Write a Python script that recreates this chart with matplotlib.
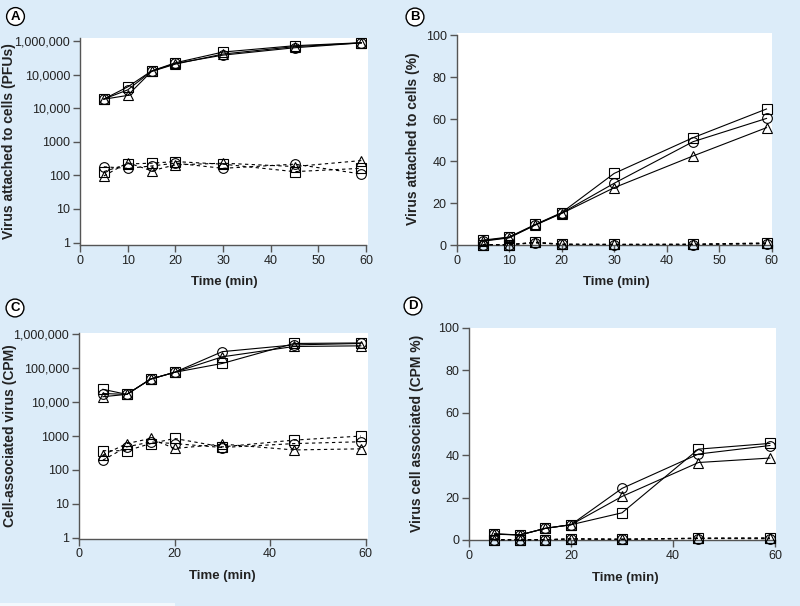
import matplotlib
matplotlib.use("Agg")
import matplotlib.pyplot as plt
from matplotlib.patches import Rectangle

# ---------------- data ----------------
time_min = [5, 10, 15, 20, 30, 45, 59]

# Panel A: virus attached to cells (PFUs)
a_sq_solid = [18700, 43000, 128000, 225000, 470000, 725000, 890000]
a_ci_solid = [18700, 35000, 126000, 215000, 380000, 630000, 880000]
a_tr_solid = [18500, 24000, 124000, 205000, 410000, 680000, 880000]
a_sq_dash = [129, 218, 230, 257, 215, 129, 162]
a_ci_dash = [180, 162, 190, 230, 162, 215, 110]
a_tr_dash = [96, 238, 137, 205, 230, 183, 275]

# Panel B: virus attached to cells (%)
b_sq_solid = [2.3, 3.8, 9.8, 15.4, 34.1, 51.1, 64.8]
b_ci_solid = [2.0, 3.6, 9.6, 15.2, 29.4, 49.2, 60.3]
b_tr_solid = [1.8, 3.4, 9.5, 15.0, 27.3, 42.4, 55.9]
b_sq_dash = [0.2, 0.1, 1.2, 0.3, 0.3, 0.3, 0.8]
b_ci_dash = [0.1, 0.2, 1.0, 0.3, 0.2, 0.2, 0.6]
b_tr_dash = [0.2, 0.1, 1.4, 0.4, 0.3, 0.4, 1.0]

# Panel C: cell-associated virus (CPM)
c_sq_solid = [24000, 17000, 48000, 76000, 139000, 540000, 560000]
c_ci_solid = [18000, 17000, 48000, 76000, 310000, 490000, 540000]
c_tr_solid = [14500, 17000, 48000, 76000, 218000, 440000, 460000]
c_sq_dash = [370, 370, 600, 850, 480, 760, 1000]
c_ci_dash = [195, 480, 670, 600, 460, 600, 680]
c_tr_dash = [275, 600, 850, 430, 580, 390, 420]

# Panel D: virus cell associated (CPM %)
d_sq_solid = [2.9, 2.4, 5.5, 7.2, 12.8, 42.8, 45.5]
d_ci_solid = [2.7, 2.4, 5.5, 7.2, 24.3, 40.5, 44.5]
d_tr_solid = [2.8, 2.4, 5.5, 7.2, 20.5, 36.5, 38.6]
d_sq_dash = [0.1, 0.1, 0.1, 0.5, 0.3, 0.8, 0.8]
d_ci_dash = [0.1, 0.1, 0.1, 0.4, 0.3, 0.7, 0.6]
d_tr_dash = [0.2, 0.2, 0.2, 0.6, 0.4, 0.9, 1.0]

log_ticks = [1, 10, 100, 1000, 10000, 100000, 1000000]
a_log_labels = ["1", "10", "100", "1000", "10,000", "10,0000", "1,000,000"]
c_log_labels = ["1", "10", "100", "1000", "10,000", "100,000", "1,000,000"]
pct_ticks = [0, 20, 40, 60, 80, 100]

# ---------------- style ----------------
BG = "#dcecf9"
TXT = "#222222"
SPINE = "#555555"
LABEL_FONT = ["Liberation Sans", "DejaVu Sans"]
TICK_FONT = ["Liberation Sans", "DejaVu Sans"]

plt.rcParams["font.family"] = TICK_FONT

fig = plt.figure(figsize=(8, 6.06), dpi=100, facecolor=BG)

W, H = 800.0, 606.0


def ax_px(left, top, right, bottom):
    return fig.add_axes([left / W, 1 - bottom / H, (right - left) / W, (bottom - top) / H])


def style(ax):
    ax.set_facecolor("white")
    for s in ["top", "right"]:
        ax.spines[s].set_visible(False)
    for s in ["left", "bottom"]:
        ax.spines[s].set_color(SPINE)
        ax.spines[s].set_linewidth(1.0)
    ax.tick_params(axis="both", direction="out", length=5, width=1.0, color=SPINE,
                   labelsize=9, labelcolor=TXT, pad=2)
    ax.minorticks_off()


def draw(ax, solids, dashes):
    markers = ["s", "o", "^"]
    for vals, m in zip(solids, markers):
        ax.plot(time_min, vals, color="black", lw=0.8, marker=m, ms=7,
                mfc="none", mec="black", mew=0.8, clip_on=False, zorder=3)
    for vals, m in zip(dashes, markers):
        ax.plot(time_min, vals, color="black", lw=0.8, ls=(0, (3, 3)), marker=m, ms=7,
                mfc="none", mec="black", mew=0.8, clip_on=False, zorder=3)


def labels(ax, ylabel, ylx, xlx, xly):
    ax.set_xlabel("Time (min)", family=LABEL_FONT, fontweight="bold", fontsize=9.5,
                  color=TXT, va="center", ha="center")
    ax.set_ylabel(ylabel, family=LABEL_FONT, fontweight="bold", fontsize=10,
                  color=TXT, va="center", ha="center")
    ax.xaxis.set_label_coords(xlx, xly)
    ax.yaxis.set_label_coords(ylx, 0.5)


# Panel A
axA = ax_px(80, 38, 368, 245)
style(axA)
draw(axA, [a_sq_solid, a_ci_solid, a_tr_solid], [a_sq_dash, a_ci_dash, a_tr_dash])
axA.set_yscale("log")
axA.set_ylim(0.843, 1.23e6)
axA.set_xlim(0, 60.4)
axA.set_yticks(log_ticks)
axA.set_yticklabels(a_log_labels)
axA.minorticks_off()
axA.set_xticks([0, 10, 20, 30, 40, 50, 60])
axA.spines["bottom"].set_bounds(0, 60)
labels(axA, "Virus attached to cells (PFUs)", -0.248, 0.5, -0.179)

# Panel B
axB = ax_px(456.5, 33, 772.3, 245)
style(axB)
draw(axB, [b_sq_solid, b_ci_solid, b_tr_solid], [b_sq_dash, b_ci_dash, b_tr_dash])
axB.set_ylim(0, 101)
axB.set_xlim(0, 60.1)
axB.set_yticks(pct_ticks)
axB.set_xticks([0, 10, 20, 30, 40, 50, 60])
axB.spines["left"].set_bounds(0, 100)
labels(axB, "Virus attached to cells (%)", -0.137, 0.507, -0.1745)

# Panel C
axC = ax_px(79, 333, 368, 538.5)
style(axC)
draw(axC, [c_sq_solid, c_ci_solid, c_tr_solid], [c_sq_dash, c_ci_dash, c_tr_dash])
axC.set_yscale("log")
axC.set_ylim(0.95, 1.1e6)
axC.set_xlim(0, 60.5)
axC.set_yticks(log_ticks)
axC.set_yticklabels(c_log_labels)
axC.minorticks_off()
axC.set_xticks([0, 20, 40, 60])
axC.spines["bottom"].set_bounds(0, 60)
labels(axC, "Cell-associated virus (CPM)", -0.238, 0.497, -0.182)

# Panel D
axD = ax_px(469, 327.7, 776, 540)
style(axD)
draw(axD, [d_sq_solid, d_ci_solid, d_tr_solid], [d_sq_dash, d_ci_dash, d_tr_dash])
axD.set_ylim(0, 100)
axD.set_xlim(0, 60.2)
axD.set_yticks(pct_ticks)
axD.set_xticks([0, 20, 40, 60])
axD.spines["bottom"].set_bounds(0, 60)
labels(axD, "Virus cell associated (CPM %)", -0.168, 0.51, -0.18)

# Panel letters
for letter, (px, py) in zip(["A", "B", "C", "D"],
                            [(15.5, 16.5), (415, 17), (15, 308), (413, 306)]):
    fig.text(px / W, 1 - py / H, letter, ha="center", va="center", fontsize=9.5,
             fontweight="bold", color="black", family=TICK_FONT,
             bbox=dict(boxstyle="circle,pad=0.22", fc="white", ec="black", lw=1.0))

# thin light strip at bottom-left
fig.patches.append(Rectangle((0, 0), 175 / W, 3 / H, transform=fig.transFigure,
                             facecolor="#f2f8fd", edgecolor="none", zorder=0))

fig.savefig("out.png", dpi=100, facecolor=BG)
